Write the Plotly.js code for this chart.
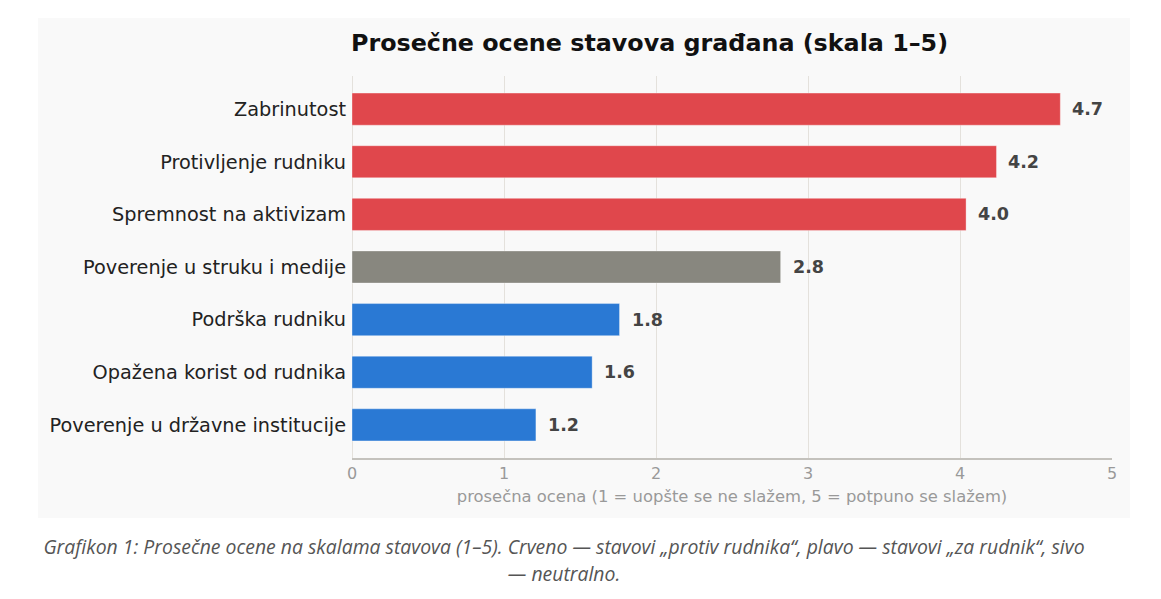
<!DOCTYPE html>
<html>
<head>
<meta charset="utf-8">
<script src="https://cdn.plot.ly/plotly-3.0.1.min.js"></script>
<style>
  body { margin: 0; background: #ffffff; width: 1161px; height: 599px; position: relative; overflow: hidden; }
  #chart { position: absolute; left: 38px; top: 18px; width: 1092px; height: 500px; }
  #caption { position: absolute; left: 0; top: 533px; width: 1128px; text-align: center;
    font-family: "Open Sans", sans-serif; font-style: italic; font-size: 19.4px; line-height: 27px; color: #555; }
</style>
</head>
<body>
<div id="chart"></div>
<div id="caption">Grafikon 1: Prosečne ocene na skalama stavova (1–5). Crveno — stavovi „protiv rudnika“, plavo — stavovi „za rudnik“, sivo<br>— neutralno.</div>
<script>
// top to bottom
let categories = ['Zabrinutost', 'Protivljenje rudniku', 'Spremnost na aktivizam',
  'Poverenje u struku i medije', 'Podrška rudniku', 'Opažena korist od rudnika',
  'Poverenje u državne institucije']
let scores = [4.66, 4.24, 4.04, 2.82, 1.76, 1.58, 1.21]
let groups = ['protiv', 'protiv', 'protiv', 'neutral', 'za', 'za', 'za']

let font_family = "'DejaVu Sans', sans-serif"
let group_colors = {protiv: '#e0474c', neutral: '#88877f', za: '#2a79d4'}
let bar_colors = []
for(g of groups){
  bar_colors.push(group_colors[g])
}

let graph_data = [
  {
    x: scores,
    y: categories,
    type: 'bar',
    orientation: 'h',
    marker: {color: bar_colors, line: {color: 'rgba(255,255,255,0.35)', width: 1}},
    hoverinfo: 'none',
  }
]

let value_labels = []
for(let i = 0; i < scores.length; i++){
  value_labels.push({
    x: scores[i],
    y: categories[i],
    xref: 'x',
    yref: 'y',
    text: '<b>' + scores[i].toFixed(1) + '</b>',
    showarrow: false,
    xanchor: 'left',
    xshift: 10,
    font: {family: font_family, size: 17.5, color: '#444444'},
  })
}

var layout = {
  width: 1092,
  height: 500,
  margin: {l: 314, r: 18, t: 58, b: 60},
  paper_bgcolor: '#f9f9f9',
  plot_bgcolor: '#f9f9f9',
  bargap: 0.39,
  showlegend: false,
  font: {family: font_family},
  title: {
    text: '<b>Prosečne ocene stavova građana (skala 1–5)</b>',
    font: {family: font_family, size: 23.8, color: '#111111'},
    x: 0.56,
    xanchor: 'center',
    xref: 'container',
    y: 0.95,
    yanchor: 'middle',
  },
  xaxis: {
    range: [0, 5],
    dtick: 1,
    showgrid: true,
    gridcolor: '#e4e1dc',
    gridwidth: 1,
    zeroline: true,
    zerolinecolor: '#e4e1dc',
    showline: true,
    linecolor: '#c4c2bd',
    linewidth: 1.5,
    ticks: '',
    tickfont: {family: font_family, size: 16, color: '#999999'},
    title: {
      text: 'prosečna ocena (1 = uopšte se ne slažem, 5 = potpuno se slažem)',
      font: {family: font_family, size: 16.4, color: '#999999'},
      standoff: 9,
    },
  },
  yaxis: {
    range: [6.63, -0.63],
    showgrid: false,
    zeroline: false,
    ticks: '',
    ticklabelstandoff: 5,
    tickfont: {family: font_family, size: 19.3, color: '#222222'},
  },
  annotations: value_labels,
}

Plotly.newPlot('chart', graph_data, layout, {displayModeBar: false, staticPlot: true})
</script>
</body>
</html>
